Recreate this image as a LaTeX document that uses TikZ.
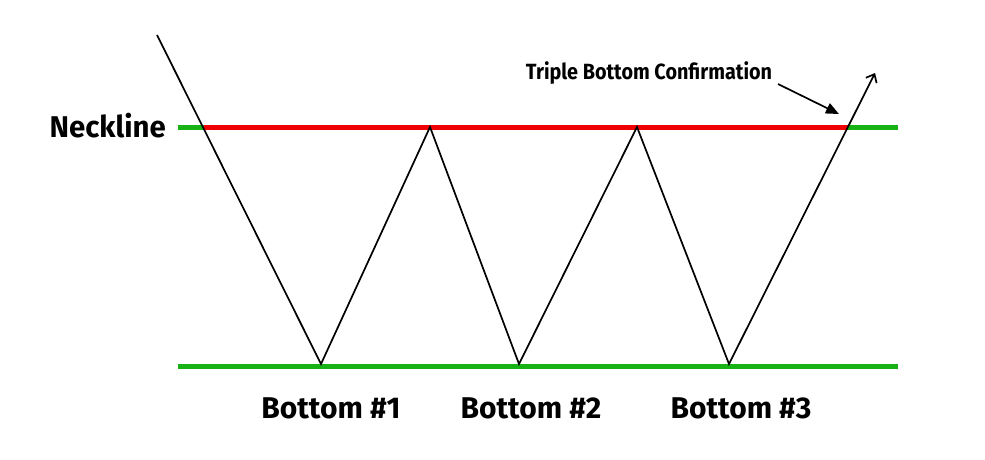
\documentclass[tikz,border=0pt]{standalone}
\usepackage{fontspec}
\setmainfont{Fira Sans}
\usetikzlibrary{arrows.meta}
\definecolor{lgreen}{RGB}{22,178,22}
\definecolor{lred}{RGB}{240,0,0}
\begin{document}
\begin{tikzpicture}[x=1pt,y=-1pt,
  level/.style={line width=5pt},
  price/.style={line width=1.7pt,black,line join=miter},
  lbl/.style={font=\fontsize{30}{32}\selectfont\bfseries,inner sep=0pt},
  ]
\useasboundingbox[fill=white] (0,0) rectangle (985,459);
% coordinates
\coordinate (s) at (157,35);
\coordinate (nL) at (178,127);
\coordinate (c1) at (204,127);
\coordinate (b1) at (321,364);
\coordinate (p1) at (430,127);
\coordinate (b2) at (519,364);
\coordinate (p2) at (637,127);
\coordinate (b3) at (729,364);
\coordinate (c2) at (848,127);
\coordinate (e) at (875,73);
\coordinate (nR) at (898,127);
\coordinate (gL) at (178,366);
\coordinate (gR) at (898,366);
% levels
\draw[level,lgreen] (gL) -- (gR);
\draw[level,lgreen] (nL) -- (c1);
\draw[level,lgreen] (c2) -- (nR);
\draw[level,lred] (c1) -- (c2);
% price path
\draw[price,-{Straight Barb[length=7pt,width=12pt]}] (s) -- (b1) -- (p1) -- (b2) -- (p2) -- (b3) -- (e);
% labels
\node[inner sep=0pt,anchor=east,font=\fontsize{30}{32}\selectfont\bfseries] (neck) at (166,126) {\scalebox{0.98}[1]{Neckline}};
\node[inner sep=0pt,font=\fontsize{22}{24}\selectfont\bfseries] (conf) at (649,73) {\scalebox{0.9}[1]{Triple Bottom Confirmation}};
\coordinate (ca) at (778,84);
\coordinate (cb) at (839,114);
\draw[line width=1.7pt,-{Triangle[length=13pt,width=11pt]}] (ca) -- (cb);
\node[lbl] (t1) at (331,408) {Bottom \#1};
\node[lbl] (t2) at (531,408) {Bottom \#2};
\node[lbl] (t3) at (741,408) {Bottom \#3};
\end{tikzpicture}
\end{document}
